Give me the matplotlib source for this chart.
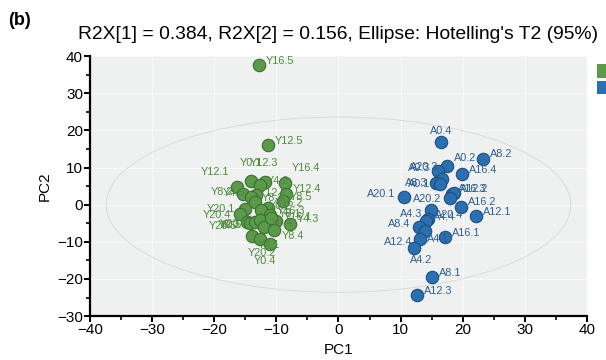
import matplotlib
matplotlib.use("Agg")
import matplotlib.pyplot as plt
from matplotlib.patches import Ellipse, Patch
from matplotlib.ticker import MultipleLocator

plt.rcParams['font.family'] = ['Liberation Sans', 'DejaVu Sans']

# PCA scores, Y group
y_names = ["Y16.5", "Y12.5", "Y0.1", "Y12.3", "Y4.2", "Y16.4", "Y12.1", "Y8.2",
           "Y4.5", "Y12.2", "Y12.4", "Y8.5", "Y8.3", "Y16.2", "Y20.1", "Y20.4",
           "Y0.2", "Y16.3", "Y16.1", "Y4.3", "Y20.5", "Y0.3", "Y0.5", "Y20.3",
           "Y4.4", "Y8.4", "Y4.1", "Y20.2", "Y0.4", "Y8.1"]
y_pc1 = [-12.8, -11.3, -14.1, -11.9, -12.6, -8.6, -16.4, -15.4,
         -13.3, -14.0, -8.4, -9.0, -13.5, -11.3, -15.1, -15.9,
         -12.4, -11.0, -10.0, -7.8, -14.8, -14.3, -13.5, -12.7,
         -12.0, -10.4, -13.9, -12.7, -11.1, -10.8]
y_pc2 = [37.5, 16.0, 6.4, 6.1, 5.2, 5.9, 4.7, 3.0,
         2.5, 2.0, 3.0, 1.0, 0.7, -0.8, -1.1, -2.4,
         -1.5, -2.9, -4.4, -5.1, -4.7, -5.0, -4.7, -4.2,
         -6.0, -6.9, -8.5, -9.2, -10.7, -3.5]

# PCA scores, A group
a_names = ["A0.4", "A8.2", "A0.2", "A0.3", "A16.4", "A20.3", "A8.3", "A0.1",
           "A20.1", "A16.3", "A12.2", "A20.2", "A16.2", "A4.3", "A12.1", "A20.4",
           "A4.4", "A8.4", "A4.1", "A16.1", "A12.4", "A4.2", "A8.1", "A12.3"]
a_pc1 = [16.5, 23.2, 17.5, 16.1, 19.9, 16.7, 15.7, 16.4,
         10.5, 18.2, 18.6, 17.9, 19.8, 14.9, 22.2, 14.4,
         14.1, 12.9, 14.0, 17.1, 13.2, 12.2, 15.0, 12.7]
a_pc2 = [16.8, 12.4, 10.3, 9.0, 8.3, 6.8, 5.9, 5.5,
         2.0, 2.8, 3.2, 1.8, -0.5, -1.5, -3.0, -3.8,
         -4.4, -6.0, -7.1, -8.7, -9.3, -11.6, -19.6, -24.4]

# Hotelling's T2 (95%) semi-axes
t2_rx = 37.4
t2_ry = 23.6

title = "R2X[1] = 0.384, R2X[2] = 0.156, Ellipse: Hotelling's T2 (95%)"

# label placement (offset in points, alignment); anything not listed goes up-right
label_pos = {
    "A0.4": (0, 8, "center"), "A0.2": (5, 6, "left"), "A20.3": (-3, 9, "right"),
    "A0.3": (-6, 2, "right"), "A8.3": (-6, 0, "right"), "A0.1": (-7, 0, "right"),
    "A20.1": (-6, 2, "right"), "A20.2": (-6, -1, "right"), "A4.3": (-6, -3, "right"),
    "A8.4": (-6, 2, "right"), "A12.4": (-6, -2, "right"), "A4.2": (-3, -9, "left"),
    "A4.1": (1, -6, "left"), "A16.3": (5, 4, "left"), "A12.2": (4, 3, "left"),
    "Y0.1": (-8, 13, "left"), "Y12.3": (-11, 14, "left"), "Y16.4": (5, 11, "left"),
    "Y12.1": (-5, 11, "right"), "Y8.2": (-7, 1, "right"), "Y4.5": (-8, 2, "right"),
    "Y20.1": (-7, 0, "right"), "Y20.4": (-6, -1, "right"), "Y0.3": (-7, -1, "right"),
    "Y20.3": (-8, -3, "right"), "Y0.5": (-9, -2, "right"), "Y20.5": (-7, -3, "right"),
    "Y20.2": (2, -10, "center"), "Y0.4": (-3, -12, "center"), "Y8.4": (6, -4, "left"),
    "Y4.1": (4, -6, "left"),
}

green = "#5b9a4a"
green_edge = "#3c6e30"
green_text = "#4f8a3f"
blue = "#2a6fb0"
blue_edge = "#1d4f80"
blue_text = "#2f5f90"

fig = plt.figure(figsize=(6.06, 3.6), dpi=100)
ax = fig.add_axes([0.1485, 0.122, 0.82, 0.722])
ax.set_facecolor("#eff1f0")

ax.add_patch(Ellipse((0, 0), 2 * t2_rx, 2 * t2_ry, fill=False,
                     edgecolor="#dadada", lw=0.7, zorder=1))

ax.scatter(y_pc1, y_pc2, s=80, color=green, edgecolors=green_edge,
           linewidths=0.8, zorder=3)
ax.scatter(a_pc1, a_pc2, s=80, color=blue, edgecolors=blue_edge,
           linewidths=0.8, zorder=3)


def put_labels(names, xs, ys, col):
    for n, x, y in zip(names, xs, ys):
        dx, dy, ha = label_pos.get(n, (5, 3, "left"))
        ax.annotate(n, (x, y), xytext=(dx, dy), textcoords="offset points",
                    fontsize=7.8, color=col, ha=ha, va="center", zorder=4)


put_labels(y_names, y_pc1, y_pc2, green_text)
put_labels(a_names, a_pc1, a_pc2, blue_text)

ax.set_xlim(-40, 40)
ax.set_ylim(-30, 40)
ax.xaxis.set_major_locator(MultipleLocator(10))
ax.xaxis.set_minor_locator(MultipleLocator(5))
ax.yaxis.set_major_locator(MultipleLocator(10))
ax.yaxis.set_minor_locator(MultipleLocator(5))
ax.grid(True, which="major", color="#f8f9f8", lw=0.8, zorder=0)
ax.set_axisbelow(True)

for s in ["top", "right"]:
    ax.spines[s].set_visible(False)
for s in ["left", "bottom"]:
    ax.spines[s].set_linewidth(1.6)
ax.tick_params(which="major", direction="out", length=4, width=1.4,
               labelsize=11, pad=1)
ax.tick_params(which="minor", direction="out", length=3, width=1.2)

ax.set_xlabel("PC1", fontsize=11, labelpad=4)
ax.set_ylabel("PC2", fontsize=11, labelpad=4)
ax.set_title(title, fontsize=13.9, pad=12)

fig.text(0.013, 0.93, "(b)", fontsize=13, fontweight="bold")

# group colour keys, sitting just past the right edge of the plot
handles = [Patch(facecolor=green, edgecolor="none", label=""),
           Patch(facecolor=blue, edgecolor="none", label="")]
ax.legend(handles=handles, loc="upper left", bbox_to_anchor=(1.01, 0.99),
          frameon=False, handlelength=1.0, handleheight=1.1,
          borderaxespad=0, labelspacing=0.15, fontsize=10)

fig.savefig("out.png", dpi=100)
